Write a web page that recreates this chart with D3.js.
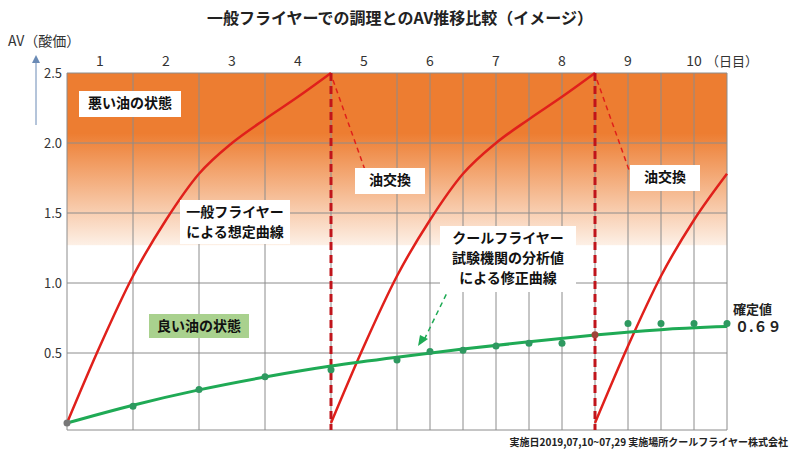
<!DOCTYPE html>
<html><head><meta charset="utf-8">
<script src="https://cdn.jsdelivr.net/npm/d3@7"></script>
<style>body{margin:0;background:#fff}text{font-family:"Noto Sans CJK JP",sans-serif}</style>
</head><body><svg id="c" width="800" height="456"></svg>
<script>
// データ
const days = [1,2,3,4,5,6,7,8,9,10];
const yTicks = [0.5,1.0,1.5,2.0,2.5];
const redDays1 = [0,0.5,1,1.5,2,2.5,3,3.5,4];
const redVals = [0,0.55,1.05,1.45,1.78,2.0,2.17,2.33,2.5];
const redDays3 = [8,8.5,9,9.5,10];
const redVals3 = [0,0.55,1.05,1.45,1.78];
const greenDays = [0,1,2,3,4,5,6,7,8,9,10];
const greenVals = [0,0.13,0.24,0.33,0.41,0.47,0.53,0.58,0.63,0.67,0.69];
const dotDays = [0,1,2,3,4,5,5.5,6,6.5,7,7.5,8,8.5,9,9.5,10];
const dotVals = [0,0.12,0.24,0.33,0.38,0.45,0.51,0.52,0.55,0.57,0.57,0.63,0.71,0.71,0.71,0.71];
const gridDays = [0,1,2,3,4,5,5.5,6,6.5,7,7.5,8,8.5,9,9.5,10];

const svg = d3.select("#c");
const x = d3.scaleLinear().domain([0,10]).range([67,727]);
const y = d3.scaleLinear().domain([0,2.5]).range([423,73]);
const bottom = 430;

// 背景グラデーション
const defs = svg.append("defs");
const g = defs.append("linearGradient").attr("id","bad").attr("x1",0).attr("x2",0).attr("y1",0).attr("y2",1);
g.append("stop").attr("offset","0%").attr("stop-color","#ed7d31");
g.append("stop").attr("offset","35%").attr("stop-color","#ed7d31");
g.append("stop").attr("offset","100%").attr("stop-color","#fdf0e6");
svg.append("rect").attr("x",x(0)).attr("y",y(2.5)).attr("width",x(10)-x(0)).attr("height",y(1.27)-y(2.5)).attr("fill","url(#bad)");

// グリッド
svg.append("g").selectAll("line").data(gridDays).join("line")
  .attr("x1",d=>x(d)).attr("x2",d=>x(d)).attr("y1",y(2.5)).attr("y2",bottom)
  .attr("stroke","#8c8c8c").attr("stroke-width",1);
svg.append("g").selectAll("line").data(yTicks).join("line")
  .attr("x1",x(0)).attr("x2",x(10)).attr("y1",d=>y(d)).attr("y2",d=>y(d))
  .attr("stroke","#8c8c8c").attr("stroke-width",1);
svg.append("line").attr("x1",x(0)).attr("x2",x(10)).attr("y1",bottom).attr("y2",bottom).attr("stroke","#8c8c8c");

// 軸ラベル
svg.append("g").selectAll("text").data(yTicks).join("text")
  .attr("x",62).attr("y",d=>y(d)+5).attr("text-anchor","end").attr("font-size",13).attr("fill","#333")
  .text(d=>d.toFixed(1));
svg.append("g").selectAll("text").data(days).join("text")
  .attr("x",d=>x(d-0.5)).attr("y",66).attr("text-anchor","middle").attr("font-size",14).attr("fill","#333")
  .text(d=>d);
svg.append("text").attr("x",706).attr("y",66).attr("font-size",13).attr("fill","#333").text("（日目）");
svg.append("text").attr("x",8).attr("y",46).attr("font-size",14).attr("fill","#333").text("AV（酸価）");
svg.append("line").attr("x1",36).attr("x2",36).attr("y1",125).attr("y2",58).attr("stroke","#6a8ab5").attr("stroke-width",1);
svg.append("path").attr("d","M32,63 L36,55 L40,63Z").attr("fill","#6a8ab5");
svg.append("text").attr("x",400).attr("y",24).attr("text-anchor","middle").attr("font-size",16).attr("font-weight","bold").attr("fill","#222")
  .text("一般フライヤーでの調理とのAV推移比較（イメージ）");

// 赤線
const line = d3.line().x(d=>x(d[0])).y(d=>y(d[1])).curve(d3.curveMonotoneX);
const red = "#e0201b";
[0,4].forEach(off=>{
  svg.append("path").datum(redDays1.map((d,i)=>[d+off,redVals[i]])).attr("d",line)
    .attr("fill","none").attr("stroke",red).attr("stroke-width",2.5);
});
svg.append("path").datum(redDays3.map((d,i)=>[d,redVals3[i]])).attr("d",line)
  .attr("fill","none").attr("stroke",red).attr("stroke-width",2.5);
[4,8].forEach(d=>{
  svg.append("line").attr("x1",x(d)).attr("x2",x(d)).attr("y1",y(2.5)).attr("y2",bottom)
    .attr("stroke","#c0141b").attr("stroke-width",3).attr("stroke-dasharray","8,5");
  svg.append("line").attr("x1",x(d)+2).attr("x2",x(d)+34).attr("y1",y(2.45)).attr("y2",170)
    .attr("stroke",red).attr("stroke-width",1.5).attr("stroke-dasharray","5,4");
});

// 緑線
const green = "#1faa55";
svg.append("path").datum(greenDays.map((d,i)=>[d,greenVals[i]])).attr("d",line.curve(d3.curveBasis))
  .attr("fill","none").attr("stroke",green).attr("stroke-width",3);
svg.append("g").selectAll("circle").data(dotDays.map((d,i)=>[d,dotVals[i]])).join("circle")
  .attr("cx",d=>x(d[0])).attr("cy",d=>y(d[1])).attr("r",3.5)
  .attr("fill",d=>d[0]===0?"#777":d[0]===8?"#a0453a":"#2e9960");
svg.append("line").attr("x1",462).attr("y1",262).attr("x2",424).attr("y2",340)
  .attr("stroke",green).attr("stroke-width",1.5).attr("stroke-dasharray","5,4");
svg.append("path").attr("d","M418,346 L420,335 L428,339Z").attr("fill",green);

// ラベル
function box(x0,y0,w,h,fill,lines,fs,lh){
  svg.append("rect").attr("x",x0).attr("y",y0).attr("width",w).attr("height",h).attr("fill",fill);
  lines.forEach((t,i)=>svg.append("text").attr("x",x0+w/2).attr("y",y0+fs+3+i*lh).attr("text-anchor","middle")
    .attr("font-size",fs).attr("font-weight","bold").attr("fill","#111").text(t));
}
box(79,91,102,26,"#fff",["悪い油の状態"],14,20);
box(149,314,100,24,"#a9d18e",["良い油の状態"],14,20);
box(355,168,70,26,"#fff",["油交換"],14,20);
box(630,165,70,26,"#fff",["油交換"],14,20);
box(180,200,110,44,"#fff",["一般フライヤー","による想定曲線"],14,20);
box(440,226,136,66,"#fff",["クールフライヤー","試験機関の分析値","による修正曲線"],14,20);
svg.append("text").attr("x",733).attr("y",314).attr("font-size",13).attr("font-weight","bold").attr("fill","#222").text("確定値");
svg.append("text").attr("x",735).attr("y",332).attr("font-size",14).attr("font-weight","bold").attr("fill","#222").text("０.６９");
svg.append("text").attr("x",788).attr("y",446).attr("text-anchor","end").attr("font-size",10).attr("font-weight","bold").attr("fill","#222")
  .text("実施日2019,07,10~07,29 実施場所クールフライヤー株式会社");
</script></body></html>
